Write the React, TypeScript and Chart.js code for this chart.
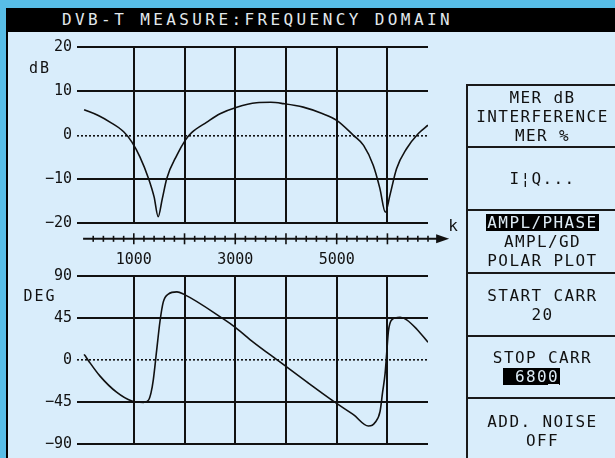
import React, { useEffect, useRef } from "react";
import { Chart, registerables } from "chart.js";

Chart.register(...registerables);

// ---------- data ----------
const kTop = [20, 300, 530, 800, 960, 1120, 1290, 1400, 1480, 1560, 1650, 1850, 2010, 2140, 2440, 2700, 3030, 3420, 3700, 3950, 4340, 4700, 5000, 5330, 5530, 5720, 5850, 5960, 6050, 6180, 6380, 6610, 6800];
const dbTop = [5.8, 4.5, 3.0, 0.8, -1.5, -4.9, -9.8, -14, -18.5, -14.5, -9.8, -4.5, -1.2, 0.6, 3.0, 4.9, 6.4, 7.4, 7.5, 7.2, 6.4, 5.0, 3.4, 0, -2.3, -6.8, -12, -17.5, -13.6, -7.6, -3.0, 0.4, 2.3];

const kBottom = [20, 60, 110, 330, 660, 960, 1190, 1290, 1340, 1385, 1450, 1515, 1580, 1680, 1850, 1980, 2765, 3000, 3360, 3880, 4410, 4970, 5330, 5625, 5700, 5755, 5855, 5905, 5955, 5985, 6020, 6085, 6250, 6380, 6580, 6800];
const degBottom = [6, 3, -1, -17, -34.5, -44, -45.5, -43, -35, -21, 10, 41, 62, 70.6, 73, 70.6, 44, 35, 19, -2, -23.5, -45.5, -58.6, -70.7, -70, -67, -55, -34.5, -14, 7, 31, 43, 45.8, 43, 33, 19];

const dbTicks = [-20, -10, 0, 10, 20];
const degTicks = [-90, -45, 0, 45, 90];
const kGrid = [1000, 2000, 3000, 4000, 5000, 6000];
const kLabels = [1000, 3000, 5000];
const kMin = -120;
const kMax = 6800;
const kAxisStart = 0;
const kAxisEnd = 7000;
const kMinorStep = 200;

const titleText = "DVB-T MEASURE:FREQUENCY DOMAIN";
const menuCells: string[][] = [
  ["MER dB", "INTERFERENCE", "MER %"],
  ["I¦Q..."],
  ["AMPL/PHASE", "AMPL/GD", "POLAR PLOT"],
  ["START CARR", "20"],
  ["STOP CARR", " 6800"],
  ["ADD. NOISE", "OFF"],
];
const highlighted = ["AMPL/PHASE", " 6800"];
const underlinedLast = [" 6800"];

// ---------- styles ----------
const INK = "#111111";
const PANEL_BG = "#D9EDFB";
const OUTER_BG = "#58BDE7";
const MONO = '"DejaVu Sans Mono", "Liberation Mono", monospace';

const fmt = (v: number) => (v < 0 ? "\u2212" + Math.abs(v) : String(v));

const unitPlugin = {
  id: "unitLabel",
  afterDraw(chart: any, _args: any, opts: any) {
    if (!opts || !opts.text) return;
    const { ctx, chartArea, scales } = chart;
    const y = scales.y;
    const ticks = opts.ticks as number[];
    const yy = (y.getPixelForValue(ticks[ticks.length - 1]) + y.getPixelForValue(ticks[ticks.length - 2])) / 2 + (opts.dy || 0);
    ctx.save();
    ctx.font = "15px " + MONO;
    (ctx as any).letterSpacing = "2px";
    ctx.fillStyle = INK;
    ctx.textAlign = "center";
    ctx.textBaseline = "middle";
    ctx.fillText(opts.text, chartArea.left - 37, yy);
    ctx.restore();
  },
};

const kAxisPlugin = {
  id: "kAxis",
  afterDraw(chart: any, _args: any, opts: any) {
    if (!opts || !opts.enabled) return;
    const { ctx, chartArea, scales } = chart;
    const x = scales.x;
    const y = chartArea.bottom + 15.5;
    const x0 = x.getPixelForValue(kAxisStart);
    const xe = x.getPixelForValue(kAxisEnd);
    ctx.save();
    ctx.strokeStyle = INK;
    ctx.fillStyle = INK;
    ctx.lineWidth = 2;
    ctx.beginPath();
    ctx.moveTo(x0, y);
    ctx.lineTo(xe, y);
    ctx.stroke();
    ctx.lineWidth = 1.6;
    for (let v = kMinorStep; v < kAxisEnd; v += kMinorStep) {
      const px = x.getPixelForValue(v);
      const h = v % 1000 === 0 ? 5.5 : 3;
      ctx.beginPath();
      ctx.moveTo(px, y - h);
      ctx.lineTo(px, y + h);
      ctx.stroke();
    }
    ctx.beginPath();
    ctx.moveTo(xe - 2, y - 4.5);
    ctx.lineTo(xe + 11, y);
    ctx.lineTo(xe - 2, y + 4.5);
    ctx.closePath();
    ctx.fill();
    ctx.font = "16px " + MONO;
    ctx.textAlign = "center";
    ctx.textBaseline = "middle";
    ctx.fillText("k", xe + 15, chartArea.bottom + 3.5);
    ctx.restore();
  },
};

function makeConfig(
  ks: number[],
  vals: number[],
  ticks: number[],
  padTop: number,
  xHeight: number,
  showXLabels: boolean,
  unit: string
): any {
  return {
    type: "line",
    data: {
      datasets: [
        {
          data: ks.map((k, i) => ({ x: k, y: vals[i] })),
          borderColor: INK,
          borderWidth: 1.6,
          pointRadius: 0,
          fill: false,
          cubicInterpolationMode: "monotone",
        },
      ],
    },
    options: {
      responsive: false,
      animation: false,
      layout: { padding: { left: 0, right: 42, top: padTop, bottom: 0 } },
      plugins: {
        legend: { display: false },
        tooltip: { enabled: false },
        unitLabel: { text: unit, ticks },
        kAxis: { enabled: showXLabels },
      },
      scales: {
        x: {
          type: "linear",
          min: kMin,
          max: kMax,
          afterBuildTicks: (s: any) => {
            s.ticks = kGrid.map((v) => ({ value: v }));
          },
          afterFit: (s: any) => {
            s.height = xHeight;
          },
          ticks: {
            display: showXLabels,
            autoSkip: false,
            maxRotation: 0,
            padding: 28,
            color: INK,
            font: { family: MONO, size: 15 },
            callback: (v: number) => (kLabels.includes(v) ? String(v) : ""),
          },
          grid: { drawTicks: false, color: INK, lineWidth: 2 },
          border: { display: false },
        },
        y: {
          type: "linear",
          min: ticks[0],
          max: ticks[ticks.length - 1],
          afterBuildTicks: (s: any) => {
            s.ticks = ticks.map((v) => ({ value: v }));
          },
          afterFit: (s: any) => {
            s.width = 77;
          },
          ticks: {
            padding: 5,
            color: INK,
            font: { family: MONO, size: 15 },
            callback: (v: number) => fmt(v),
          },
          grid: {
            drawTicks: false,
            color: INK,
            lineWidth: (c: any) => (c.tick && c.tick.value === 0 ? 1.6 : 2),
          },
          border: {
            display: false,
            dash: (c: any) => (c.tick && c.tick.value === 0 ? [2, 2] : []),
          },
        },
      },
    },
    plugins: [unitPlugin, kAxisPlugin],
  };
}

function ChartCanvas(props: { top: number; height: number; config: () => any }) {
  const ref = useRef<HTMLCanvasElement | null>(null);
  useEffect(() => {
    if (!ref.current) return;
    const chart = new Chart(ref.current, props.config());
    return () => chart.destroy();
  }, []);
  return (
    <canvas
      ref={ref}
      width={470}
      height={props.height}
      style={{ position: "absolute", left: 0, top: props.top, width: 470, height: props.height }}
    />
  );
}

const cellTops = [84, 146, 209, 272, 335, 397, 462];

export default function App() {
  return (
    <div
      style={{
        position: "fixed",
        left: 0,
        top: 0,
        width: 615,
        height: 458,
        background: OUTER_BG,
        overflow: "hidden",
        fontFamily: MONO,
      }}
    >
      <div style={{ position: "absolute", left: 6, top: 8, right: 0, bottom: 0, background: "#000" }} />
      <div style={{ position: "absolute", left: 8, top: 32, right: 0, bottom: 0, background: PANEL_BG }} />
      <div
        style={{
          position: "absolute",
          left: 62,
          top: 8,
          height: 24,
          lineHeight: "24px",
          fontSize: 16,
          letterSpacing: "3.4px",
          color: "#E2E8EC",
          whiteSpace: "pre",
        }}
      >
        {titleText}
      </div>

      <ChartCanvas
        top={33}
        height={237}
        config={() => makeConfig(kTop, dbTop, dbTicks, 14.3, 46.7, true, "dB")}
      />
      <ChartCanvas
        top={262}
        height={196}
        config={() => makeConfig(kBottom, degBottom, degTicks, 11.3, 10.7, false, "DEG")}
      />

      {menuCells.map((lines, i) => (
        <div
          key={i}
          style={{
            position: "absolute",
            left: 466,
            top: cellTops[i],
            width: 160,
            height: cellTops[i + 1] - cellTops[i],
            boxSizing: "border-box",
            borderTop: "2px solid #1a1a1a",
            borderLeft: "2px solid #1a1a1a",
            display: "flex",
            flexDirection: "column",
            justifyContent: "center",
            paddingRight: 10,
          }}
        >
          {lines.map((ln, j) => {
            const hi = highlighted.includes(ln);
            const ul = underlinedLast.includes(ln);
            return (
              <div
                key={j}
                style={{
                  width: 149,
                  textAlign: "center",
                  lineHeight: "19px",
                  fontSize: 16,
                  letterSpacing: "1.4px",
                  whiteSpace: "pre",
                  color: INK,
                }}
              >
                <span
                  style={
                    hi
                      ? {
                          background: "#000",
                          color: "#DCEAF4",
                          padding: "0 1px",
                          lineHeight: "17px",
                          display: "inline-block",
                          position: "relative",
                          left: ul ? -11 : 0,
                        }
                      : {}
                  }
                >
                  {ul ? (
                    <>
                      {ln.slice(0, -1)}
                      <span style={{ textDecoration: "underline", textUnderlineOffset: "2px" }}>{ln.slice(-1)}</span>
                    </>
                  ) : (
                    ln
                  )}
                </span>
              </div>
            );
          })}
        </div>
      ))}
    </div>
  );
}
